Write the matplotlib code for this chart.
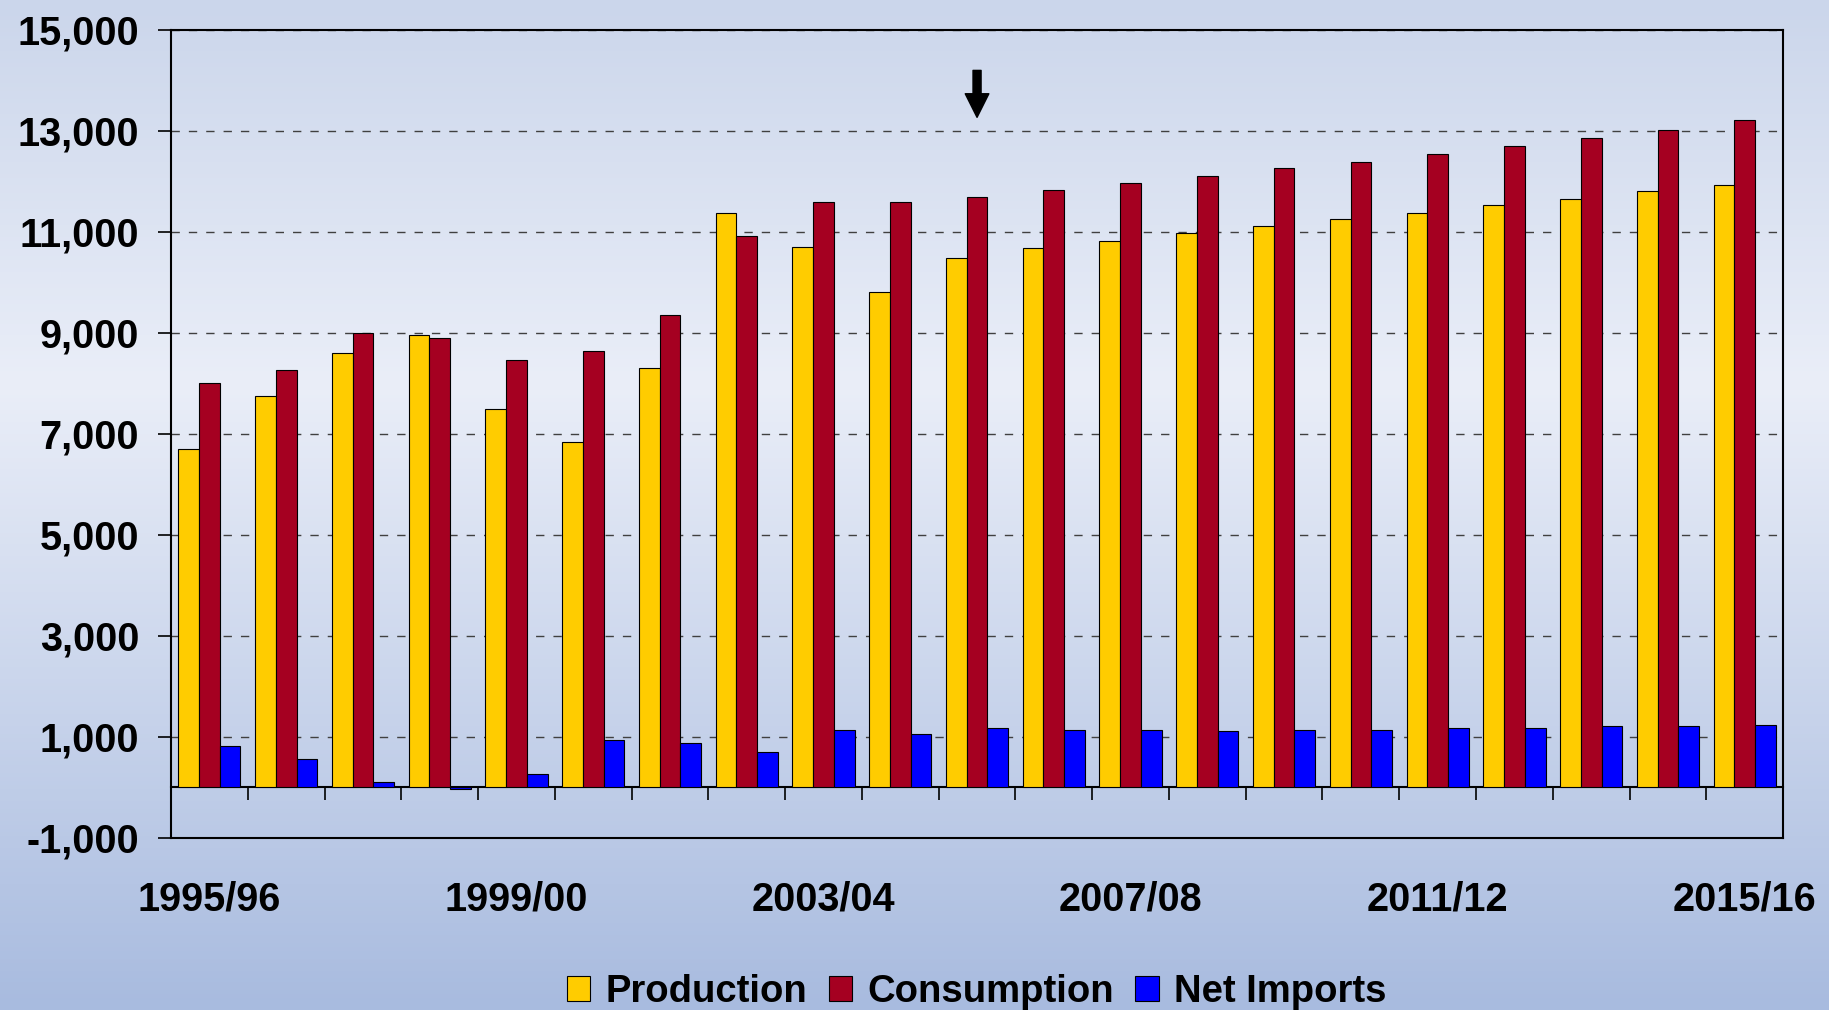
import numpy as np
import matplotlib
matplotlib.use("Agg")
import matplotlib.pyplot as plt
from matplotlib.colors import LinearSegmentedColormap

plt.rcParams['font.family'] = ['Liberation Sans', 'DejaVu Sans']
plt.rcParams['font.weight'] = 'bold'

seasons = ['1995/96', '1996/97', '1997/98', '1998/99', '1999/00', '2000/01', '2001/02',
           '2002/03', '2003/04', '2004/05', '2005/06', '2006/07', '2007/08', '2008/09',
           '2009/10', '2010/11', '2011/12', '2012/13', '2013/14', '2014/15', '2015/16']
production = [6700, 7760, 8610, 8960, 7500, 6840, 8300, 11370, 10710, 9820, 10490,
              10680, 10830, 10990, 11120, 11250, 11370, 11540, 11660, 11820, 11930]
consumption = [8010, 8260, 9000, 8900, 8460, 8650, 9350, 10930, 11600, 11600, 11690,
               11840, 11970, 12100, 12260, 12390, 12550, 12710, 12860, 13020, 13210]
net_imports = [830, 570, 100, -30, 260, 950, 890, 700, 1140, 1050, 1175,
               1140, 1140, 1110, 1140, 1140, 1175, 1175, 1210, 1210, 1240]
labelled_seasons = ['1995/96', '1999/00', '2003/04', '2007/08', '2011/12', '2015/16']
y_ticks = [-1000, 1000, 3000, 5000, 7000, 9000, 11000, 13000, 15000]
arrow_season = '2005/06'

fig = plt.figure(figsize=(18.29, 10.10), dpi=100)

# background gradient
bg = fig.add_axes([0, 0, 1, 1], zorder=0)
cmap = LinearSegmentedColormap.from_list('bg', [(0.0, '#cbd6eb'), (0.38, '#eaeef8'), (1.0, '#a8bbdf')])
bg.imshow(np.linspace(0, 1, 256).reshape(-1, 1), aspect='auto', cmap=cmap, extent=[0, 1, 0, 1])
bg.set_axis_off()

ax = fig.add_axes([0.0935, 0.1703, 0.9749 - 0.0935, 0.9703 - 0.1703], zorder=1)
ax.set_facecolor('none')

x = np.arange(len(seasons))
w = 0.27
ax.bar(x - w, production, w, color='#ffcc00', edgecolor='black', linewidth=0.8, label='Production', zorder=3)
ax.bar(x, consumption, w, color='#a50021', edgecolor='black', linewidth=0.8, label='Consumption', zorder=3)
ax.bar(x + w, net_imports, w, color='#0000ff', edgecolor='black', linewidth=0.8, label='Net Imports', zorder=3)

ax.set_xlim(-0.5, len(seasons) - 0.5)
ax.set_ylim(-1000, 15000)
ax.set_yticks(y_ticks)
ax.set_yticklabels([f'{v:,}' for v in y_ticks])
ax.tick_params(axis='y', direction='out', length=9.4, width=1.2, pad=13.5, labelsize=28.5)

ax.yaxis.grid(True, color='#404040', linestyle=(0, (6, 6.5)), linewidth=1)
ax.set_axisbelow(True)

# x axis sits on zero
ax.spines['bottom'].set_position(('data', 0))
for s in ax.spines.values():
    s.set_linewidth(1.5)
ax.axhline(-1000, color='black', linewidth=1.5, clip_on=False)

ax.set_xticks(x[:-1] + 0.5)
ax.set_xticklabels([])
ax.tick_params(axis='x', which='major', direction='out', length=9.4, width=1.2)
ax.set_xticks([seasons.index(s) for s in labelled_seasons], minor=True)
ax.set_xticklabels(labelled_seasons, minor=True)
ax.tick_params(axis='x', which='minor', length=0, pad=67, labelsize=28.5)

ai = seasons.index(arrow_season)
ax.annotate('', xy=(ai, 13270), xytext=(ai, 14200),
            arrowprops=dict(facecolor='black', edgecolor='black', width=5.8,
                            headwidth=17, headlength=17, shrink=0))

fig.legend(loc='center', bbox_to_anchor=(0.534, 0.018), ncol=3, frameon=False,
           fontsize=27.5, handlelength=0.62, handleheight=0.62, handletextpad=0.4,
           columnspacing=0.55)

fig.savefig('out.png', dpi=100)
